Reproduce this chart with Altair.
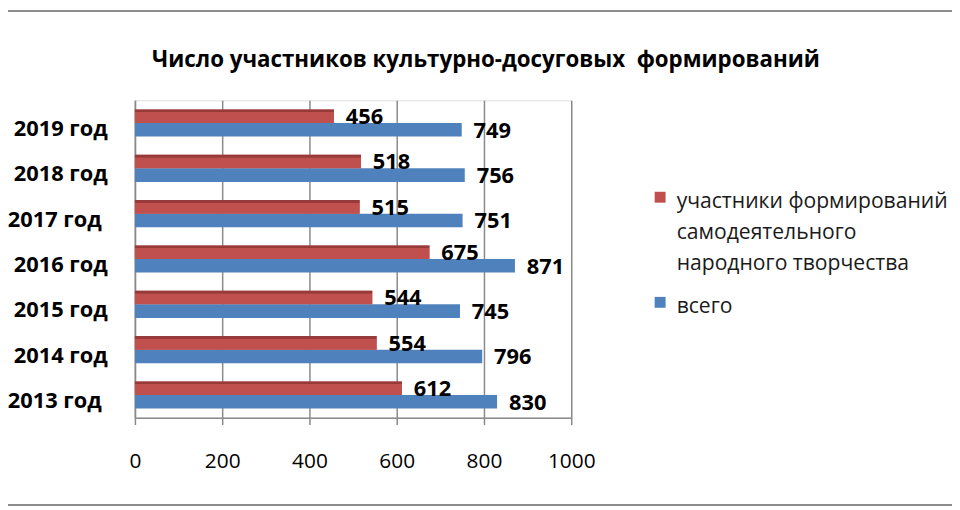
import json
import altair as alt
import pandas as pd

# ---- data ----
years = ["2013 год", "2014 год", "2015 год", "2016 год", "2017 год", "2018 год", "2019 год"]
shifted_years = ["2013 год", "2017 год"]  # these labels sit a little further left in the reference
participants = [612, 554, 544, 675, 515, 518, 456]
total = [830, 796, 745, 871, 751, 756, 749]
series = ["участники формирований самодеятельного народного творчества", "всего"]
legend_lines = ["участники формирований", "самодеятельного", "народного творчества"]
x_ticks = [0, 200, 400, 600, 800, 1000]
title_text = "Число участников культурно-досуговых\u00a0 формирований"

RED = "#C0504D"
RED_DARK = "#963B39"
BLUE = "#4F81BD"
GRID = "#8a8a8a"
FRAME = "#8c8c8c"
FONT = "Open Sans"

rows = []
for y, p, t in zip(years, participants, total):
    rows.append({"year": y, "series": series[0], "value": p})
    rows.append({"year": y, "series": series[1], "value": t})
df = pd.DataFrame(rows)

year_order = list(reversed(years))

label_expr = f"datum.label == {json.dumps(series[0])} ? {json.dumps(legend_lines)} : datum.label"
shift_test = f"indexof({json.dumps(shifted_years)}, datum.value) >= 0"

base = alt.Chart(df).encode(
    y=alt.Y(
        "year:N",
        sort=year_order,
        scale=alt.Scale(paddingInner=0.4, paddingOuter=0.2),
        axis=alt.Axis(
            title=None,
            ticks=False,
            domain=True,
            domainColor=GRID,
            domainWidth=1.5,
            labelFont=FONT,
            labelFontSize=22,
            labelFontWeight="bold",
            labelColor="black",
            labelPadding={"condition": {"test": shift_test, "value": 34}, "value": 28},
            labelOffset=6,
        ),
    ),
    yOffset=alt.YOffset("series:N", sort=series),
)

bars = base.mark_bar().encode(
    x=alt.X(
        "value:Q",
        scale=alt.Scale(domain=[0, 1000], nice=False),
        axis=alt.Axis(
            title=None,
            values=x_ticks,
            format="d",
            grid=True,
            gridColor=GRID,
            gridWidth=1.5,
            domainColor=GRID,
            domainWidth=1.5,
            tickColor=GRID,
            tickWidth=1.5,
            tickSize=7,
            labelFont=FONT,
            labelFontSize=21,
            labelColor="black",
            labelPadding=26,
            labelFlush=False,
        ),
    ),
    color=alt.Color(
        "series:N",
        sort=series,
        scale=alt.Scale(domain=series, range=[RED, BLUE]),
        legend=alt.Legend(
            title=None,
            orient="none",
            legendX=519,
            legendY=81,
            symbolType="M-1,0.1H1V2.1H-1Z",
            symbolSize=121,
            symbolStrokeWidth=0,
            labelFont=FONT,
            labelFontSize=21.3,
            labelColor="#1a1a1a",
            labelOffset=6,
            labelLimit=400,
            labelBaseline="top",
            labelExpr=label_expr,
            rowPadding=12,
        ),
    ),
)

# red bars again, with the darker top edge of the reference's 3-D look
red_shade = alt.Gradient(
    gradient="linear",
    x1=0, x2=0, y1=0, y2=1,
    stops=[
        alt.GradientStop(offset=0, color=RED_DARK),
        alt.GradientStop(offset=0.2, color=RED_DARK),
        alt.GradientStop(offset=0.21, color=RED),
        alt.GradientStop(offset=1, color=RED),
    ],
)
red_bars = base.transform_filter(alt.datum.series == series[0]).mark_bar(color=red_shade).encode(
    x=alt.X("value:Q")
)

labels = base.mark_text(
    align="left", dx=12, dy=1, font=FONT, fontSize=22, fontWeight="bold", color="black"
).encode(
    x=alt.X("value:Q"),
    text=alt.Text("value:Q"),
)

frame_df = pd.DataFrame({"k": [0]})
frame_top = alt.Chart(frame_df).mark_rule(color=FRAME, strokeWidth=2).encode(
    x=alt.value(-128), x2=alt.value(824), y=alt.value(-90)
)
frame_bottom = alt.Chart(frame_df).mark_rule(color=FRAME, strokeWidth=2).encode(
    x=alt.value(-128), x2=alt.value(824), y=alt.value(408)
)

chart = (
    alt.layer(bars, red_bars, labels, frame_top, frame_bottom)
    .properties(
        width=440,
        height=320,
        autosize=alt.AutoSizeParams(type="none"),
        padding={"left": 128, "top": 91, "right": 384, "bottom": 90},
        title=alt.TitleParams(
            text=title_text,
            font=FONT,
            fontSize=22.5,
            fontWeight="bold",
            color="black",
            anchor="middle",
            frame="group",
            dx=134,
            offset=-62,
        ),
    )
    .configure_view(stroke=None)
    .configure(style={"guide-label": {"lineHeight": 31}})
)

chart.save("out.html", embed_options={"renderer": "svg", "actions": False})
